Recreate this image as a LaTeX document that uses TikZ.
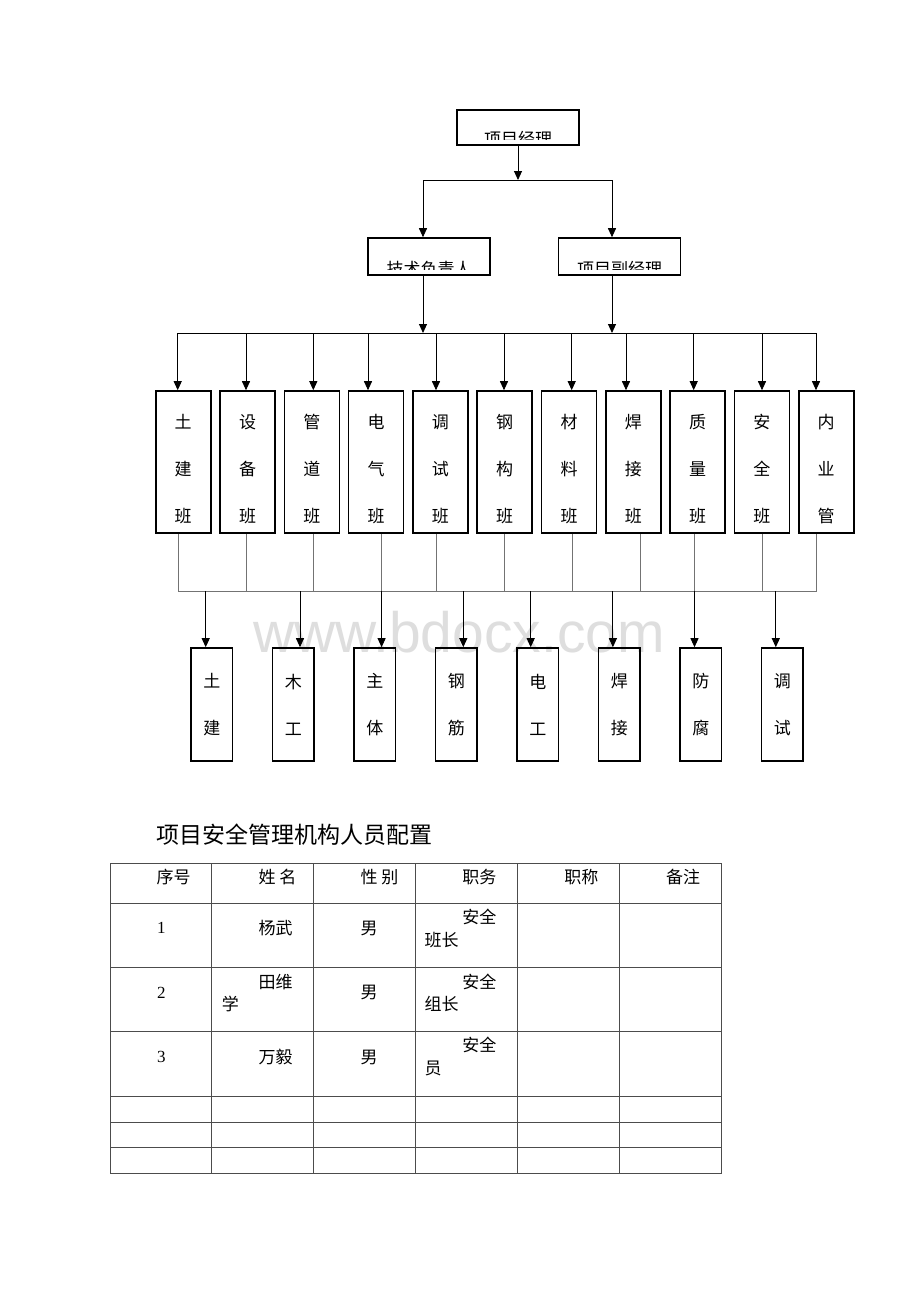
\documentclass[tikz,border=0pt]{standalone}
\usepackage{fontspec}
\setmainfont{Noto Sans CJK SC}
\newfontfamily\latinserif{Liberation Serif}
\newfontfamily\markfont{Liberation Sans}
\usetikzlibrary{arrows.meta, positioning}
\tikzstyle{box} = [draw, line width=1.6pt, rectangle, inner sep=0pt]
\tikzstyle{head} = [box, minimum width=122pt, minimum height=37pt]
\tikzstyle{team} = [box, minimum width=55pt, minimum height=142pt]
\tikzstyle{crew} = [box, minimum width=41.5pt, minimum height=113pt, align=center, font=\fontsize{17}{47}\selectfont]
\tikzstyle{vtext} = [align=center, inner sep=0pt, font=\fontsize{17}{47}\selectfont]
\tikzstyle{headtext} = [inner sep=0pt, anchor=base, font=\fontsize{17}{18}\selectfont]
\tikzstyle{link} = [-{Triangle[length=9pt, width=8pt]}, line width=0.9pt]
\tikzstyle{feed} = [black!55, line width=0.8pt]
\tikzstyle{tabline} = [black!70, line width=0.8pt]
\tikzstyle{entry} = [inner sep=0pt, anchor=west, font=\fontsize{17}{23}\selectfont]

\begin{document}
\begin{tikzpicture}[x=1pt, y=-1pt]
    \useasboundingbox [fill=white] (0,0) rectangle (920,1302);

    % Watermark.
    \node (mark) [anchor=base, inner sep=0pt, text=black!13, font=\markfont\fontsize{57}{57}\selectfont] at (459,652) {www.bdocx.com};

    % Heads.
    \node (pm) [head, minimum height=35pt] at (518,127.5) {};
    \node (tech) [head] at (429,256.5) {};
    \node (vice) [head] at (619.5,256.5) {};

    \foreach \n/\t in {pm/项目经理, tech/技术负责人, vice/项目副经理} {
        \begin{scope}
            \clip ([yshift=6pt]\n.south west) rectangle (\n.north east);
            \node (\n-t) [headtext] at (\n.south) {\t};
        \end{scope}
    }

    \coordinate (topbus) at (518,180);
    \coordinate (techin) at (423,180);
    \coordinate (vicein) at (612,180);
    \draw [link] (pm) -- (topbus);
    \draw [line width=0.9pt] (techin) -- (vicein);
    \draw [link] (techin) -- (techin |- tech.north);
    \draw [link] (vicein) -- (vicein |- vice.north);

    \coordinate (techout) at (423,333);
    \coordinate (viceout) at (612,333);
    \draw [link] (techout |- tech.south) -- (techout);
    \draw [link] (viceout |- vice.south) -- (viceout);

    % Teams.
    \coordinate (busA) at (178,333);
    \coordinate (busB) at (817,333);
    \draw [line width=0.9pt] (busA) -- (busB);

    \foreach \i/\ca/\cb/\cc/\ax/\ox in {1/土/建/班/177.7/178, 2/设/备/班/246/246, 3/管/道/班/313.3/313,
        4/电/气/班/368/381.7, 5/调/试/班/436/436, 6/钢/构/班/504/504, 7/材/料/班/571.7/572,
        8/焊/接/班/626/640, 9/质/量/班/693.7/694, 10/安/全/班/762/762, 11/内/业/管/816/816} {
        \node (team\i) [team] at ({183.2+64.3*(\i-1)},462) {};
        \node (team\i-t) [vtext] at ([yshift=-7pt]team\i.center) {\ca\\\cb\\\cc};
        \coordinate (tap\i) at (\ax,333);
        \draw [link] (tap\i) -- (tap\i |- team\i.north);
        \coordinate (drop\i) at (\ox,591);
        \draw [feed] (drop\i |- team\i.south) -- (drop\i);
    }

    % Crews.
    \coordinate (busC) at (178,591);
    \coordinate (busD) at (817,591);
    \draw [feed] (busC) -- (busD);

    \foreach \i/\ca/\cb/\ax in {1/土/建/205.7, 2/木/工/300, 3/主/体/381.6, 4/钢/筋/463.3,
        5/电/工/530.7, 6/焊/接/612.9, 7/防/腐/694.5, 8/调/试/775.8} {
        \node (crew\i) [crew] at ({211.8+81.5*(\i-1)},704.5) {\ca\\\cb};
        \coordinate (feed\i) at (\ax,591);
        \draw [link] (feed\i) -- (feed\i |- crew\i.north);
    }

    % Staff table.
    \node (title) [entry, font=\fontsize{23}{23}\selectfont] at (156,835) {项目安全管理机构人员配置};

    \draw [tabline] (110,863) rectangle (721.5,1173);
    \foreach \y in {903, 967, 1031.5, 1096, 1122, 1147.5} {
        \draw [tabline] (110,\y) -- (721.5,\y);
    }
    \foreach \x in {211.5, 313.5, 415.5, 517.5, 619.5} {
        \draw [tabline] (\x,863) -- (\x,1173);
    }

    \foreach \i/\t in {0/序号, 1/姓 名, 2/性 别, 3/职务, 4/职称, 5/备注} {
        \node (col\i) [entry] at ({156.5+101.9*\i},877) {\t};
    }

    \node (no1) [entry, font=\latinserif\fontsize{17}{23}\selectfont] at (157,928) {1};
    \node (name1) [entry] at (258.4,928) {杨武};
    \node (sex1) [entry] at (360.3,928) {男};
    \node (duty1a) [entry] at (462.2,917) {安全};
    \node (duty1b) [entry] at (424.5,940) {班长};

    \node (no2) [entry, font=\latinserif\fontsize{17}{23}\selectfont] at (157,992.7) {2};
    \node (name2a) [entry] at (258.4,981.7) {田维};
    \node (name2b) [entry] at (221.7,1004.3) {学};
    \node (sex2) [entry] at (360.3,992.7) {男};
    \node (duty2a) [entry] at (462.2,981.7) {安全};
    \node (duty2b) [entry] at (424.5,1004.3) {组长};

    \node (no3) [entry, font=\latinserif\fontsize{17}{23}\selectfont] at (157,1057.3) {3};
    \node (name3) [entry] at (258.4,1057.3) {万毅};
    \node (sex3) [entry] at (360.3,1057.3) {男};
    \node (duty3a) [entry] at (462.2,1045) {安全};
    \node (duty3b) [entry] at (424.5,1068.3) {员};
\end{tikzpicture}
\end{document}
